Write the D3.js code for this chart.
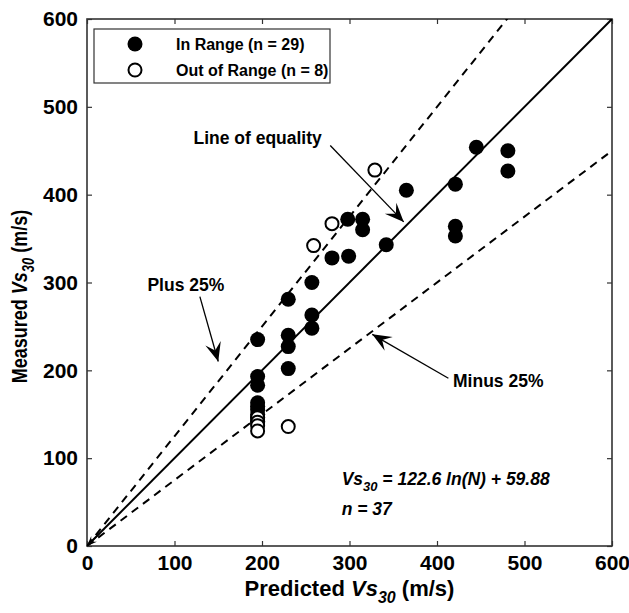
<!DOCTYPE html>
<html>
<head>
<meta charset="utf-8">
<script src="https://cdn.jsdelivr.net/npm/d3@7"></script>
<style>
  body { margin: 0; background: #fff; }
  text { font-family: "Liberation Sans", Arial, sans-serif; font-weight: bold; fill: #000; }
</style>
</head>
<body>
<svg id="chart"></svg>
<script>
// data (predicted, measured)
const inRange = [
  [195, 235], [195, 193], [195, 183], [195, 163], [195, 159], [195, 155],
  [195, 150], [195, 146], [195, 142],
  [230, 281], [230, 240], [230, 227], [230, 202],
  [257, 300], [257, 263], [257, 248],
  [280, 328], [299, 330], [298, 372], [315, 372], [315, 360], [342, 343],
  [365, 405], [421, 412], [421, 364], [421, 353],
  [445, 454], [481, 450], [481, 427]
];
const outRange = [
  [195, 146], [195, 141], [195, 137], [195, 131],
  [230, 136], [259, 342], [280, 367], [329, 428]
];
const ticks = [0, 100, 200, 300, 400, 500, 600];
const refLines = [
  { name: "equality", k: 1.00, dash: null },
  { name: "plus", k: 1.25, dash: "8,6" },
  { name: "minus", k: 0.75, dash: "8,6" }
];
const notes = [
  { text: "Line of equality", tx: 195, ty: 465, from: [278, 456], to: [362, 369] },
  { text: "Plus 25%", tx: 113, ty: 297, from: [129, 284], to: [150, 210] },
  { text: "Minus 25%", tx: 470, ty: 188, from: [413, 191], to: [326, 241] }
];
const legendItems = [
  { label: "In Range (n = 29)", filled: true },
  { label: "Out of Range (n = 8)", filled: false }
];

const margin = { top: 19, right: 17, bottom: 67, left: 87 },
    width = 629 - margin.left - margin.right,
    height = 613 - margin.top - margin.bottom;

const svg = d3.select("#chart")
    .attr("width", 629)
    .attr("height", 613)
    .append("g")
    .attr("transform", `translate(${margin.left}, ${margin.top})`);

const x = d3.scaleLinear().domain([0, 600]).range([0, width]);
const y = d3.scaleLinear().domain([0, 600]).range([height, 0]);

// clip so reference lines stop at the frame
svg.append("clipPath").attr("id", "clip")
  .append("rect").attr("width", width).attr("height", height);

// axes with inward ticks on all four sides
svg.append("g")
  .attr("transform", `translate(0,${height})`)
  .call(d3.axisBottom(x).tickValues(ticks).tickSizeInner(-5).tickSizeOuter(0).tickPadding(9))
  .call(g => g.selectAll("text").style("font-size", "21px"));
svg.append("g")
  .call(d3.axisLeft(y).tickValues(ticks).tickSizeInner(-5).tickSizeOuter(0).tickPadding(9))
  .call(g => g.selectAll("text").style("font-size", "21px"));
svg.append("g")
  .call(d3.axisTop(x).tickValues(ticks).tickSizeInner(-5).tickSizeOuter(0).tickFormat(""));
svg.append("g")
  .attr("transform", `translate(${width},0)`)
  .call(d3.axisRight(y).tickValues(ticks).tickSizeInner(-5).tickSizeOuter(0).tickFormat(""));
svg.selectAll(".domain").remove();
svg.selectAll(".tick line").attr("stroke", "#333").attr("stroke-width", 1.2);

svg.append("rect")
  .attr("width", width).attr("height", height)
  .attr("fill", "none").attr("stroke", "#333").attr("stroke-width", 1.6);

// reference lines
const plot = svg.append("g").attr("clip-path", "url(#clip)");
refLines.forEach(r => {
  plot.append("line")
    .attr("x1", x(0)).attr("y1", y(0))
    .attr("x2", x(600)).attr("y2", y(600 * r.k))
    .attr("stroke", "#000").attr("stroke-width", 2)
    .attr("stroke-dasharray", r.dash);
});

// markers
svg.selectAll(".in")
  .data(inRange)
  .enter().append("circle")
  .attr("class", "in")
  .attr("cx", d => x(d[0])).attr("cy", d => y(d[1]))
  .attr("r", 7.5).attr("fill", "#000");

svg.selectAll(".out")
  .data(outRange)
  .enter().append("circle")
  .attr("class", "out")
  .attr("cx", d => x(d[0])).attr("cy", d => y(d[1]))
  .attr("r", 6.5).attr("fill", "#fff").attr("stroke", "#000").attr("stroke-width", 2);

// arrow helper: line plus barbed head
function arrow(x1, y1, x2, y2, len, half) {
  svg.append("line")
    .attr("x1", x1).attr("y1", y1).attr("x2", x2).attr("y2", y2)
    .attr("stroke", "#000").attr("stroke-width", 1.3);
  const a = Math.atan2(y2 - y1, x2 - x1);
  const ux = Math.cos(a), uy = Math.sin(a);
  const bx = x2 - ux * len, by = y2 - uy * len;
  const nx = x2 - ux * len * 0.6, ny = y2 - uy * len * 0.6;
  svg.append("path")
    .attr("d", `M${x2},${y2} L${bx - uy * half},${by + ux * half} L${nx},${ny} L${bx + uy * half},${by - ux * half} Z`)
    .attr("fill", "#000");
}

notes.forEach(n => {
  svg.append("text")
    .attr("x", x(n.tx)).attr("y", y(n.ty))
    .attr("text-anchor", "middle").attr("dy", "0.35em")
    .style("font-size", "17.5px")
    .text(n.text);
  arrow(x(n.from[0]), y(n.from[1]), x(n.to[0]), y(n.to[1]), 19, 8);
});

// little arrow sitting on the origin
arrow(x(14), y(14), x(0), y(0), 10, 4);

// equation
const eq = svg.append("text")
  .attr("x", x(291)).attr("y", y(69))
  .style("font-size", "17.5px").style("font-style", "italic");
eq.append("tspan").text("Vs");
eq.append("tspan").attr("dy", 6).style("font-size", "13px").text("30");
eq.append("tspan").attr("dy", -6).text(" = 122.6 ln(N) + 59.88");
svg.append("text")
  .attr("x", x(291)).attr("y", y(35))
  .style("font-size", "17.5px").style("font-style", "italic")
  .text("n = 37");

// legend
const legend = svg.append("g").attr("transform", "translate(7,10)");
legend.append("rect")
  .attr("width", 236).attr("height", 54)
  .attr("fill", "#fff").attr("stroke", "#333").attr("stroke-width", 1.2);
legendItems.forEach((d, i) => {
  const row = legend.append("g").attr("transform", `translate(0,${15 + i * 26})`);
  row.append("circle")
    .attr("cx", 41).attr("cy", 0)
    .attr("r", d.filled ? 7.5 : 6.5)
    .attr("fill", d.filled ? "#000" : "#fff")
    .attr("stroke", d.filled ? "none" : "#000").attr("stroke-width", 2);
  row.append("text")
    .attr("x", 82).attr("dy", "0.35em")
    .style("font-size", "16px")
    .text(d.label);
});

// axis titles
const xt = svg.append("text")
  .attr("x", width / 2).attr("y", height + 50)
  .attr("text-anchor", "middle")
  .style("font-size", "22px");
xt.append("tspan").text("Predicted ");
xt.append("tspan").style("font-style", "italic").text("Vs");
xt.append("tspan").attr("dy", 7).style("font-style", "italic").style("font-size", "16px").text("30");
xt.append("tspan").attr("dy", -7).text(" (m/s)");

const yt = svg.append("text")
  .attr("transform", `translate(${-60},${height / 2 + 14}) scale(1.2,1) rotate(-90)`)
  .attr("text-anchor", "middle")
  .style("font-size", "18px");
yt.append("tspan").text("Measured ");
yt.append("tspan").style("font-style", "italic").text("Vs");
yt.append("tspan").attr("dy", 6).style("font-style", "italic").style("font-size", "13px").text("30");
yt.append("tspan").attr("dy", -6).text(" (m/s)");
</script>
</body>
</html>
